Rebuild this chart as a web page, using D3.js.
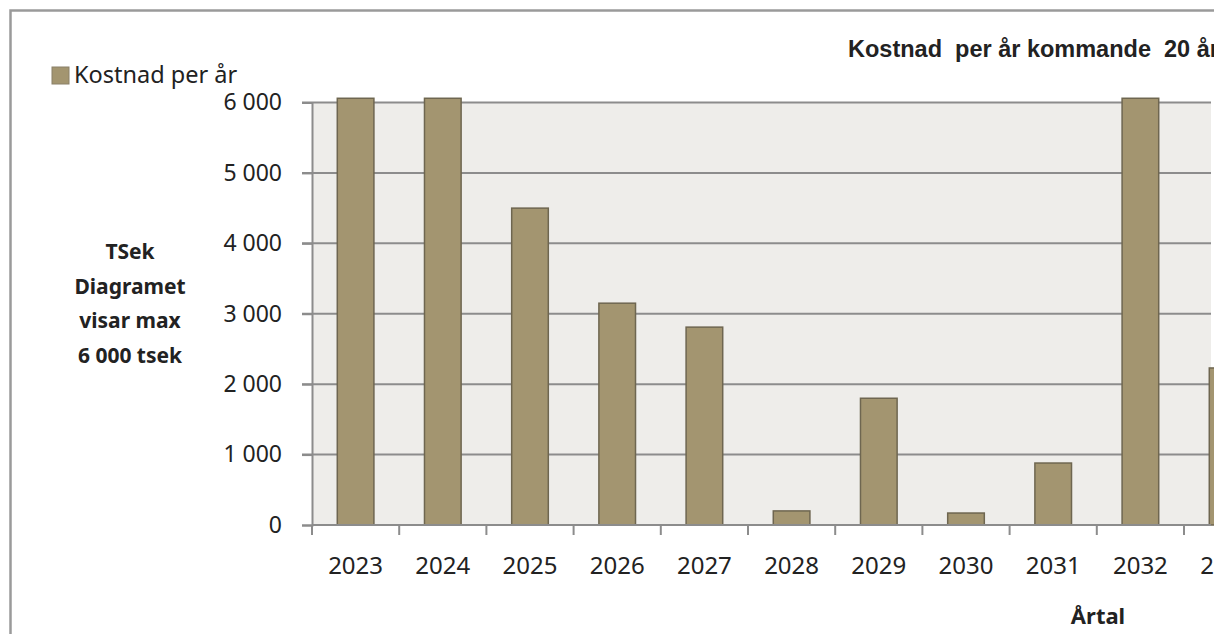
<!DOCTYPE html>
<html>
<head>
<meta charset="utf-8">
<script src="https://cdn.jsdelivr.net/npm/d3@7"></script>
<style>
  body { margin: 0; background: #fff; }
  svg text { font-family: "Noto Sans", "Open Sans", sans-serif; fill: #222; }
</style>
</head>
<body>
<div class="bar-chart"></div>
<script>
// data
const years = ['2023','2024','2025','2026','2027','2028','2029','2030','2031','2032','2033'];
const kostnad = [6060, 6060, 4500, 3150, 2810, 200, 1800, 170, 880, 6060, 2230];
const yTicks = [0, 1000, 2000, 3000, 4000, 5000, 6000];
const yTitle = ['TSek', 'Diagramet', 'visar max', '6 000 tsek'];

const svg_width = 1224, svg_height = 634;
const plot = {left: 312, top: 102.5, bottom: 525, right: 1211};
const step = 87.2;

// svenska tusentalsavgränsare "6 000"
const fmt = d3.formatLocale({decimal: ',', thousands: ' ', grouping: [3], currency: ['', ' kr']}).format(',d');

const svg = d3.select('.bar-chart').append('svg')
    .attr('width', svg_width).attr('height', svg_height);

svg.append('clipPath').attr('id', 'crop')
    .append('rect').attr('x', 0).attr('y', 0).attr('width', 1214).attr('height', svg_height);

const g = svg.append('g').attr('clip-path', 'url(#crop)');

// ram runt diagrammet
g.append('rect').attr('x', 10.5).attr('y', 10.5).attr('width', 1300).attr('height', 700)
    .attr('fill', 'none').attr('stroke', '#9a9a9a').attr('stroke-width', 2.5);

// skalor
const yScale = d3.scaleLinear([0, 6000], [plot.bottom, plot.top]);
const xBand = d3.scaleBand().domain(years)
    .range([plot.left, plot.left + step * years.length]);
const xBar = d3.scaleBand().domain(years)
    .range([plot.left, plot.left + step * years.length])
    .paddingInner(0.58).paddingOuter(0.29);

// plotbakgrund
g.append('rect').attr('x', plot.left).attr('y', plot.top)
    .attr('width', plot.right - plot.left).attr('height', plot.bottom - plot.top)
    .attr('fill', '#eeedea');

// rutnät
g.append('g').selectAll('line').data(yTicks.filter(d => d > 0)).join('line')
    .attr('x1', plot.left - 10).attr('x2', plot.right)
    .attr('y1', d => yScale(d)).attr('y2', d => yScale(d))
    .attr('stroke', '#8c8c8c').attr('stroke-width', 2);

// staplar
g.append('g').selectAll('rect').data(kostnad).join('rect')
    .attr('x', (d, i) => xBar(years[i]))
    .attr('y', d => yScale(d))
    .attr('width', xBar.bandwidth())
    .attr('height', d => yScale(0) - yScale(d))
    .attr('fill', '#a39570')
    .attr('stroke', '#6e6650').attr('stroke-width', 1.5);

// y-axel
const yAxis = d3.axisLeft(yScale).tickValues(yTicks).tickFormat(fmt).tickSize(10).tickPadding(20);
const yAxisDraw = g.append('g').attr('transform', `translate(${plot.left},0)`).call(yAxis);
yAxisDraw.select('.domain').attr('stroke', '#8c8c8c').attr('stroke-width', 2);
yAxisDraw.selectAll('.tick line').attr('stroke', '#8c8c8c').attr('stroke-width', 2);
yAxisDraw.selectAll('text').style('font-size', '23px').attr('fill', '#222')
    .attr('font-family', '"Noto Sans", sans-serif');

// x-axel
g.append('line').attr('x1', plot.left).attr('x2', plot.right)
    .attr('y1', plot.bottom).attr('y2', plot.bottom)
    .attr('stroke', '#8c8c8c').attr('stroke-width', 2);
const boundaries = years.map(d => xBand(d)).concat([xBand.range()[1]]);
g.append('g').selectAll('line').data(boundaries).join('line')
    .attr('x1', d => d).attr('x2', d => d)
    .attr('y1', plot.bottom).attr('y2', plot.bottom + 10)
    .attr('stroke', '#8c8c8c').attr('stroke-width', 2);
g.append('g').selectAll('text').data(years).join('text')
    .attr('x', d => xBand(d) + xBand.bandwidth() / 2)
    .attr('y', 574)
    .attr('text-anchor', 'middle')
    .style('font-size', '24px')
    .text(d => d);

// axeltitlar
g.append('text').attr('x', 130).attr('text-anchor', 'middle')
    .style('font-size', '21px').style('font-weight', 'bold')
    .selectAll('tspan').data(yTitle).join('tspan')
    .attr('x', 130).attr('y', (d, i) => 259 + i * 34.5)
    .text(d => d);

g.append('text').attr('x', 1098).attr('y', 624).attr('text-anchor', 'middle')
    .style('font-size', '22px').style('font-weight', 'bold')
    .text('Årtal');

// rubrik
g.append('text').attr('x', 848).attr('y', 57)
    .style('font-family', '"Liberation Sans", Arial, sans-serif')
    .style('font-size', '23.5px').style('font-weight', 'bold')
    .attr('xml:space', 'preserve').style('white-space', 'pre')
    .text('Kostnad  per år kommande  20 år');

// legend
const legend = g.append('g').attr('transform', 'translate(52,67)');
legend.append('rect').attr('width', 17).attr('height', 17)
    .attr('fill', '#a39570').attr('stroke', '#8a8068').attr('stroke-width', 1);
legend.append('text').attr('x', 22).attr('y', 16)
    .style('font-size', '23.5px').text('Kostnad per år');
</script>
</body>
</html>
